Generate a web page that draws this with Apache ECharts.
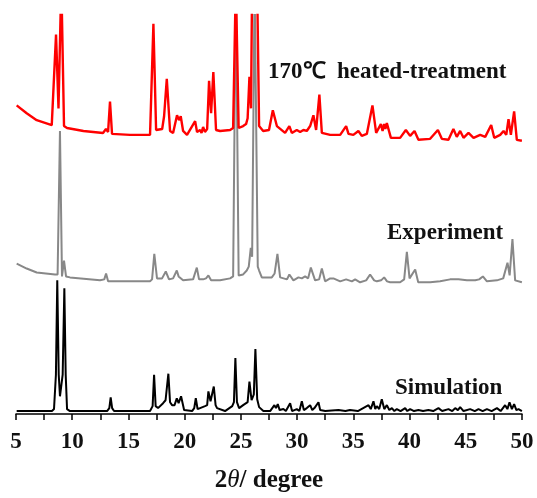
<!DOCTYPE html>
<html>
<head>
<meta charset="utf-8">
<script src="https://cdn.jsdelivr.net/npm/echarts@6/dist/echarts.min.js"></script>
<style>html,body{margin:0;padding:0;background:#fff}#c{width:537px;height:498px}</style>
</head>
<body>
<div id="c"></div>
<script>
// x tick labels
var xTicks = [5, 10, 15, 20, 25, 30, 35, 40, 45, 50];
// series names
var seriesNames = ['Simulation', 'Experiment', '170\u2103  heated-treatment'];

// [2theta, intensity (offset, arbitrary units)]
var simulation = [[5.06,3],[8.2,3],[8.38,5],[8.55,40],[8.67,136],[8.8,40],[8.91,18],[9.15,40],[9.3,128],[9.42,40],[9.54,5],[9.8,3],[13.1,3],[13.3,6],[13.42,17],[13.55,6],[13.72,3],[16.92,3],[17.15,8],[17.28,40],[17.42,8],[17.63,6],[18.08,11],[18.3,14],[18.55,41],[18.7,12],[18.88,9],[19.1,9],[19.3,16],[19.46,11],[19.68,18],[19.95,4],[20.66,3],[20.85,6],[20.99,16],[21.15,5],[21.28,3],[21.81,8],[22.0,9],[22.11,23],[22.3,13],[22.59,28],[22.75,9],[22.88,6],[23.59,3],[24.23,8],[24.38,12],[24.51,57],[24.65,12],[24.84,6],[25.2,9],[25.6,12],[25.76,33],[25.95,14],[26.15,20],[26.29,66],[26.45,15],[26.62,7],[27.0,3],[27.6,3],[27.98,9],[28.12,6],[28.28,10],[28.45,4],[28.78,5],[29.0,3],[29.38,11],[29.55,3],[29.97,5],[30.2,3],[30.42,13],[30.6,4],[30.86,6],[31.0,4],[31.16,9],[31.35,4],[31.54,6],[31.7,4],[31.9,12],[32.05,4],[32.2,6],[32.5,3],[33.68,4],[34.3,3],[34.7,4],[35.4,3],[36.35,9],[36.55,5],[36.79,13],[36.95,5],[37.09,8],[37.3,5],[37.53,15],[37.75,5],[37.98,9],[38.2,4],[38.43,6],[38.65,3],[38.87,5],[39.2,3],[39.61,6],[39.8,3],[40.05,5],[40.4,3],[40.79,4],[41.2,3],[41.68,4],[42.1,3],[42.57,6],[42.9,3],[43.46,5],[43.8,3],[44.06,6],[44.3,4],[44.5,7],[44.8,3],[45.39,5],[45.8,3],[46.13,5],[46.5,3],[46.88,5],[47.3,3],[47.77,6],[48.1,3],[48.5,9],[48.7,5],[48.89,12],[49.1,5],[49.3,10],[49.5,4],[49.69,5],[49.99,3]];

var experiment = [[5.06,153],[5.95,148],[6.84,144],[8.47,142],[8.7,142],[8.91,288],[9.09,140],[9.27,156],[9.45,140],[9.8,139],[12.47,136],[12.85,137],[13.01,143],[13.19,135],[15.14,135],[16.92,135],[17.1,137],[17.3,163],[17.54,138],[17.99,138],[18.32,145],[18.61,137],[18.97,138],[19.3,146],[19.46,140],[19.59,141],[19.86,136],[20.75,137],[21.08,149],[21.28,137],[21.37,139],[21.64,137],[21.9,138],[22.11,141],[22.35,136],[23.15,136],[24.04,138],[24.31,140],[24.55,440],[24.8,141],[25.2,142],[25.52,146],[25.7,150],[25.88,169],[26.0,160],[26.22,440],[26.5,150],[26.62,146],[26.86,139],[27.75,139],[28.0,143],[28.25,163],[28.49,139],[28.64,137],[29.1,137],[29.31,142],[29.67,136],[30.12,139],[30.42,138],[30.71,140],[30.98,138],[31.22,149],[31.6,136],[31.96,137],[32.2,148],[32.49,135],[32.94,138],[33.23,138],[33.83,135],[34.36,137],[34.87,135],[35.16,137],[35.6,134],[36.14,136],[36.49,142],[36.85,136],[37.09,135],[37.47,136],[37.74,139],[38.0,135],[38.27,134],[39.16,134],[39.52,137],[39.76,165],[40.0,138],[40.14,136],[40.5,147],[40.77,134],[41.83,134],[42.72,135],[43.61,137],[44.35,137],[45.1,136],[45.84,136],[46.19,137],[46.52,140],[46.88,135],[47.77,136],[48.33,138],[48.71,154],[48.9,141],[49.15,178],[49.39,136],[49.99,134]];

var heated = [[5.06,314],[5.95,306],[6.84,299],[8.18,294],[8.29,293],[8.56,386],[8.78,311],[9.03,440],[9.27,293],[9.54,291],[11.0,288],[12.74,286],[13.0,290],[13.19,287],[13.36,318],[13.54,285],[15.14,284],[16.92,284],[17.04,286],[17.22,397],[17.46,289],[18.0,290],[18.17,303],[18.41,341],[18.7,288],[18.97,286],[19.32,304],[19.5,299],[19.65,303],[19.86,288],[20.21,284],[20.93,298],[21.1,287],[21.37,289],[21.5,286],[21.64,292],[21.8,287],[22.0,290],[22.17,339],[22.35,306],[22.55,348],[22.79,289],[23.15,288],[24.04,289],[24.31,291],[24.55,440],[24.8,291],[25.2,293],[25.46,295],[25.6,301],[25.76,343],[25.9,311],[26.0,440],[26.44,440],[26.62,293],[26.98,288],[27.5,289],[27.84,309],[28.2,293],[28.93,286],[29.31,293],[29.53,286],[29.97,289],[30.27,287],[30.56,289],[30.86,288],[31.16,293],[31.45,304],[31.69,289],[31.98,325],[32.2,286],[32.94,284],[33.83,284],[34.36,293],[34.57,285],[35.0,284],[35.45,288],[35.75,283],[36.2,285],[36.7,314],[37.03,286],[37.45,295],[37.6,288],[37.74,295],[37.85,290],[37.98,296],[38.34,281],[39.16,281],[39.67,289],[40.05,283],[40.44,288],[40.79,279],[41.83,280],[42.52,289],[42.87,280],[43.46,279],[43.9,290],[44.2,282],[44.5,288],[44.8,281],[45.24,286],[45.69,281],[46.28,284],[46.73,282],[47.26,294],[47.53,281],[48.06,284],[48.36,288],[48.6,284],[48.8,300],[49.01,284],[49.3,308],[49.54,279],[49.99,278]];

var chart = echarts.init(document.getElementById('c'), null, {renderer: 'canvas'});
var serif = '"Liberation Serif", "Times New Roman", serif';
var labelFont = 'bold 23px ' + serif;
chart.setOption({
  animation: false,
  backgroundColor: '#fff',
  grid: {left: 16, right: 15, top: 15, bottom: 77, containLabel: false},
  xAxis: {
    type: 'value', min: 5, max: 50, interval: 2.5,
    axisLine: {show: true, lineStyle: {color: '#000', width: 1.5}},
    axisTick: {show: true, inside: false, length: 6, lineStyle: {color: '#000', width: 1.5}},
    splitLine: {show: false},
    axisLabel: {
      margin: 17, color: '#111', fontFamily: serif, fontWeight: 'bold', fontSize: 23,
      formatter: function (v) { return xTicks.indexOf(v) >= 0 ? String(v) : ''; }
    },
    name: '{b|2}{i|\u03b8}{b|/ degree}',
    nameLocation: 'middle', nameGap: 54,
    nameTextStyle: {
      rich: {
        b: {fontFamily: serif, fontWeight: 'bold', fontSize: 25, color: '#111'},
        i: {fontFamily: serif, fontStyle: 'italic', fontSize: 25, color: '#111'}
      }
    }
  },
  yAxis: {type: 'value', min: 0, max: 406, show: false, splitLine: {show: false}},
  series: [
    {name: seriesNames[0], type: 'line', data: simulation, showSymbol: false, clip: true,
     lineStyle: {color: '#000', width: 2}, z: 2},
    {name: seriesNames[1], type: 'line', data: experiment, showSymbol: false, clip: true,
     lineStyle: {color: '#888', width: 2}, z: 3},
    {name: seriesNames[2], type: 'line', data: heated, showSymbol: false, clip: true,
     lineStyle: {color: '#f00', width: 2.4}, z: 4}
  ],
  graphic: [
    {type: 'text', x: 268, y: 72, style: {text: seriesNames[2], font: labelFont, fill: '#111', verticalAlign: 'middle'}},
    {type: 'text', x: 387, y: 233, style: {text: seriesNames[1], font: labelFont, fill: '#111', verticalAlign: 'middle'}},
    {type: 'text', x: 395, y: 388, style: {text: seriesNames[0], font: labelFont, fill: '#111', verticalAlign: 'middle'}}
  ]
});
</script>
</body>
</html>
